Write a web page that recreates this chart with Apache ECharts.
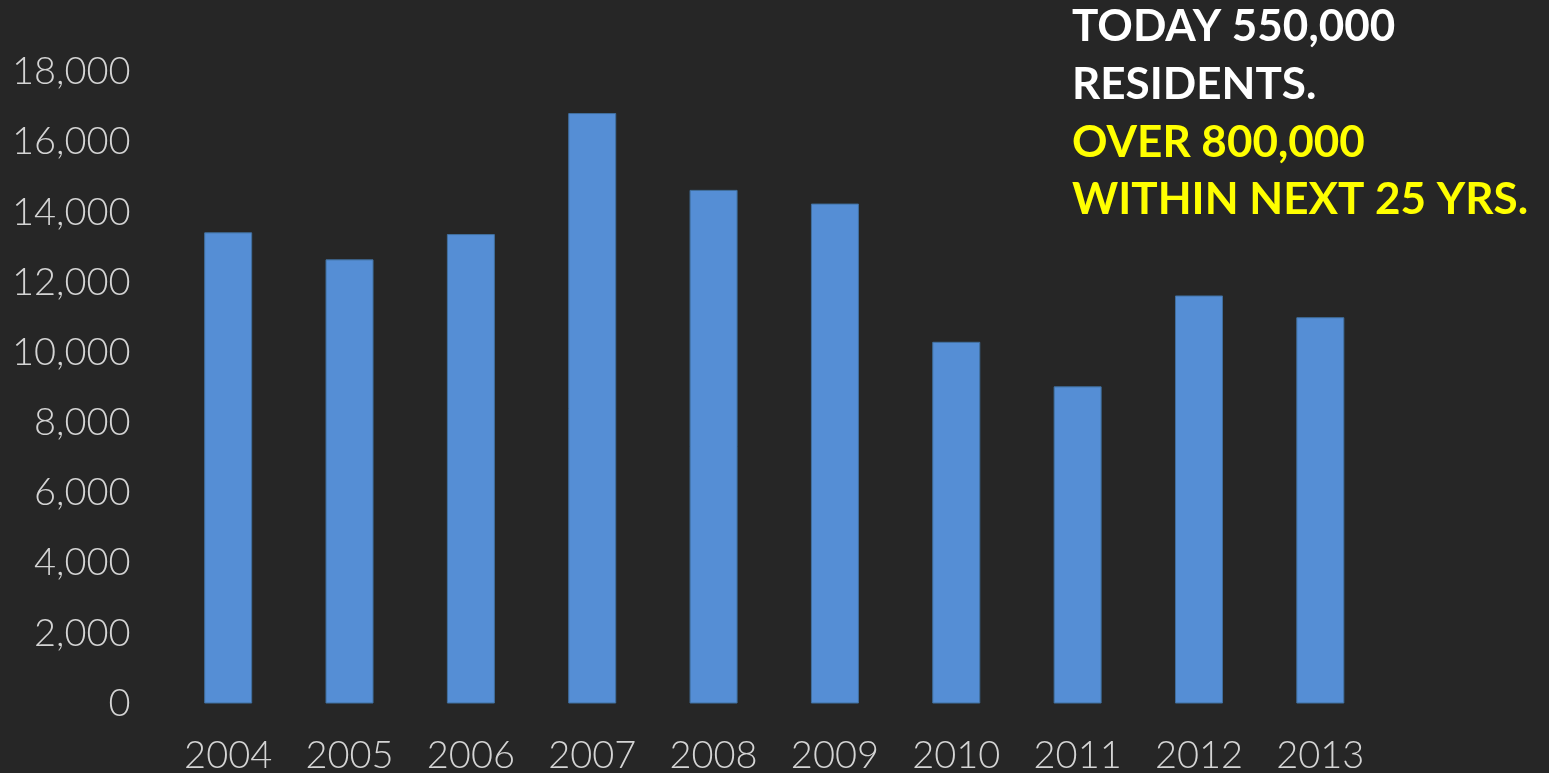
<!DOCTYPE html>
<html>
<head>
<meta charset="utf-8">
<title>Residents growth 2004–2013</title>
<script src="https://cdn.jsdelivr.net/npm/echarts@6/dist/echarts.min.js"></script>
<style>
  html, body { margin: 0; padding: 0; background: #262626; }
  #chart { width: 1549px; height: 773px; }
</style>
</head>
<body>
<div id="chart"></div>
<script>
// Yearly figures
const years = ['2004', '2005', '2006', '2007', '2008', '2009', '2010', '2011', '2012', '2013'];
const values = [13430, 12660, 13380, 16830, 14640, 14250, 10310, 9040, 11630, 11010];

// Value axis range
const yMin = 0;
const yMax = 18000;
const yStep = 2000;

// Callout lines
const calloutWhite = ['TODAY 550,000', 'RESIDENTS.'];
const calloutYellow = ['OVER 800,000', 'WITHIN NEXT 25 YRS.'];

const chart = echarts.init(document.getElementById('chart'), null, { renderer: 'canvas' });

const labelFont = { fontFamily: 'Lato', fontWeight: 300, fontSize: 38, color: '#d4d4d4' };

const calloutLines = calloutWhite.map(t => ({ text: t, color: '#ffffff' }))
  .concat(calloutYellow.map(t => ({ text: t, color: '#ffff00' })));

chart.setOption({
  backgroundColor: '#262626',
  animation: false,
  grid: {
    left: 167.5, right: 168, top: 72, bottom: 69.5,
    containLabel: false,
    outerBoundsMode: 'none'
  },
  xAxis: {
    type: 'category',
    data: years,
    axisLine: { show: false },
    axisTick: { show: false },
    axisLabel: Object.assign({ margin: 33 }, labelFont)
  },
  yAxis: {
    type: 'value',
    min: yMin,
    max: yMax,
    interval: yStep,
    axisLine: { show: false },
    axisTick: { show: false },
    splitLine: { show: false },
    axisLabel: Object.assign({
      margin: 37,
      formatter: v => v.toLocaleString('en-US')
    }, labelFont)
  },
  series: [{
    type: 'bar',
    data: values,
    barWidth: 48,
    itemStyle: { color: '#558ed5', borderColor: '#41709f', borderWidth: 1 }
  }],
  graphic: calloutLines.map((l, i) => ({
    type: 'text',
    left: 1072,
    top: 5 + i * 57.7,
    style: {
      text: l.text,
      fill: l.color,
      font: 'bold 44px Lato'
    }
  }))
});
</script>
</body>
</html>
